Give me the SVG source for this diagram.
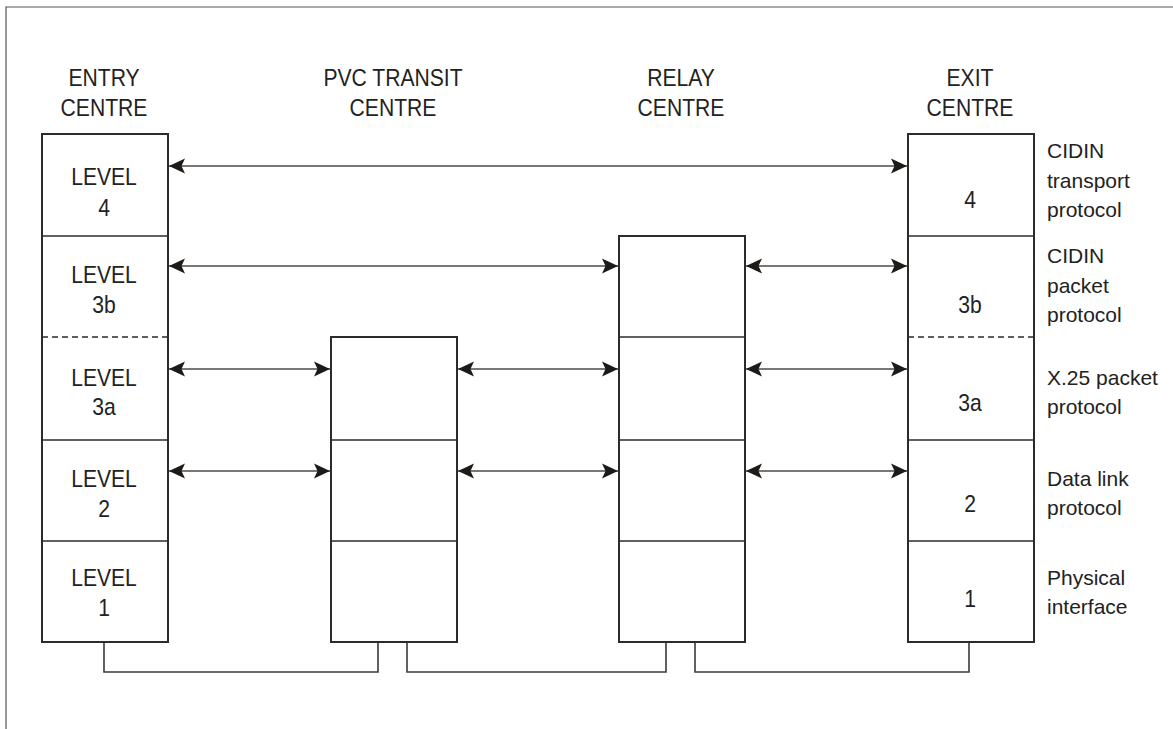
<svg xmlns="http://www.w3.org/2000/svg" width="1173" height="729" viewBox="0 0 1173 729">
<defs>
<marker id="ah" markerUnits="userSpaceOnUse" markerWidth="17" markerHeight="16" refX="16" refY="8" orient="auto-start-reverse" viewBox="0 0 17 16">
<path d="M0,0.5 L16,8 L0,15.5 L3.5,8 Z" fill="#1e1a18"/>
</marker>
<style>
.frame{fill:none;stroke:#555;stroke-width:1.2}
.box{fill:#fff;stroke:#2b2b2b;stroke-width:2}
.div{stroke:#2b2b2b;stroke-width:1.6;fill:none}
.dash{stroke:#2b2b2b;stroke-width:1.5;stroke-dasharray:6 4;fill:none}
.arr{stroke:#777;stroke-width:1.8;fill:none;marker-start:url(#ah);marker-end:url(#ah)}
.wire{stroke:#3a3a3a;stroke-width:1.6;fill:none}
text{font-family:"Liberation Sans",Arial,sans-serif;fill:#222}
.t{font-size:24px;text-anchor:middle}
.r{font-size:21px}
</style>
</defs>
<rect width="1173" height="729" fill="#fff"/>
<path class="frame" d="M6,729 L6,7 L1173,7"/>

<g id="entry">
<rect class="box" x="42" y="134" width="126" height="508"/>
<line class="div" x1="42" y1="236" x2="168" y2="236"/>
<line class="dash" x1="42" y1="337" x2="168" y2="337"/>
<line class="div" x1="42" y1="440" x2="168" y2="440"/>
<line class="div" x1="42" y1="541" x2="168" y2="541"/>
<g transform="translate(104 0) scale(0.88 1)">
<text class="t" x="0" y="86">ENTRY</text>
<text class="t" x="0" y="116">CENTRE</text>
<text class="t" x="0" y="185">LEVEL</text><text class="t" x="0" y="216">4</text>
<text class="t" x="0" y="283">LEVEL</text><text class="t" x="0" y="313">3b</text>
<text class="t" x="0" y="386">LEVEL</text><text class="t" x="0" y="415">3a</text>
<text class="t" x="0" y="487">LEVEL</text><text class="t" x="0" y="517">2</text>
<text class="t" x="0" y="586">LEVEL</text><text class="t" x="0" y="616">1</text>
</g>
</g>

<g id="pvc">
<rect class="box" x="331" y="337" width="126" height="305"/>
<line class="div" x1="331" y1="440" x2="457" y2="440"/>
<line class="div" x1="331" y1="541" x2="457" y2="541"/>
<g transform="translate(393 0) scale(0.88 1)">
<text class="t" x="0" y="86">PVC TRANSIT</text>
<text class="t" x="0" y="116">CENTRE</text>
</g>
</g>

<g id="relay">
<rect class="box" x="619" y="236" width="126" height="406"/>
<line class="div" x1="619" y1="337" x2="745" y2="337"/>
<line class="div" x1="619" y1="440" x2="745" y2="440"/>
<line class="div" x1="619" y1="541" x2="745" y2="541"/>
<g transform="translate(681 0) scale(0.88 1)">
<text class="t" x="0" y="86">RELAY</text>
<text class="t" x="0" y="116">CENTRE</text>
</g>
</g>

<g id="exit">
<rect class="box" x="908" y="134" width="126" height="508"/>
<line class="div" x1="908" y1="236" x2="1034" y2="236"/>
<line class="dash" x1="908" y1="337" x2="1034" y2="337"/>
<line class="div" x1="908" y1="440" x2="1034" y2="440"/>
<line class="div" x1="908" y1="541" x2="1034" y2="541"/>
<g transform="translate(970 0) scale(0.88 1)">
<text class="t" x="0" y="86">EXIT</text>
<text class="t" x="0" y="116">CENTRE</text>
<text class="t" x="0" y="208">4</text>
<text class="t" x="0" y="313">3b</text>
<text class="t" x="0" y="411">3a</text>
<text class="t" x="0" y="512">2</text>
<text class="t" x="0" y="607">1</text>
</g>
</g>

<g id="labels">
<text class="r" x="1047" y="158">CIDIN</text>
<text class="r" x="1047" y="188">transport</text>
<text class="r" x="1047" y="217">protocol</text>
<text class="r" x="1047" y="263">CIDIN</text>
<text class="r" x="1047" y="293">packet</text>
<text class="r" x="1047" y="322">protocol</text>
<text class="r" x="1047" y="385">X.25 packet</text>
<text class="r" x="1047" y="414">protocol</text>
<text class="r" x="1047" y="486">Data link</text>
<text class="r" x="1047" y="515">protocol</text>
<text class="r" x="1047" y="585">Physical</text>
<text class="r" x="1047" y="614">interface</text>
</g>

<g id="connectors">
<line class="arr" x1="169" y1="166" x2="907" y2="166"/>
<line class="arr" x1="169" y1="266" x2="618" y2="266"/>
<line class="arr" x1="746" y1="266" x2="907" y2="266"/>
<line class="arr" x1="169" y1="369" x2="330" y2="369"/>
<line class="arr" x1="458" y1="369" x2="618" y2="369"/>
<line class="arr" x1="746" y1="369" x2="907" y2="369"/>
<line class="arr" x1="169" y1="471" x2="330" y2="471"/>
<line class="arr" x1="458" y1="471" x2="618" y2="471"/>
<line class="arr" x1="746" y1="471" x2="907" y2="471"/>
<path class="wire" d="M104,643 L104,672 L378,672 L378,643"/>
<path class="wire" d="M407,643 L407,672 L666,672 L666,643"/>
<path class="wire" d="M695,643 L695,672 L969,672 L969,643"/>
</g>
</svg>
